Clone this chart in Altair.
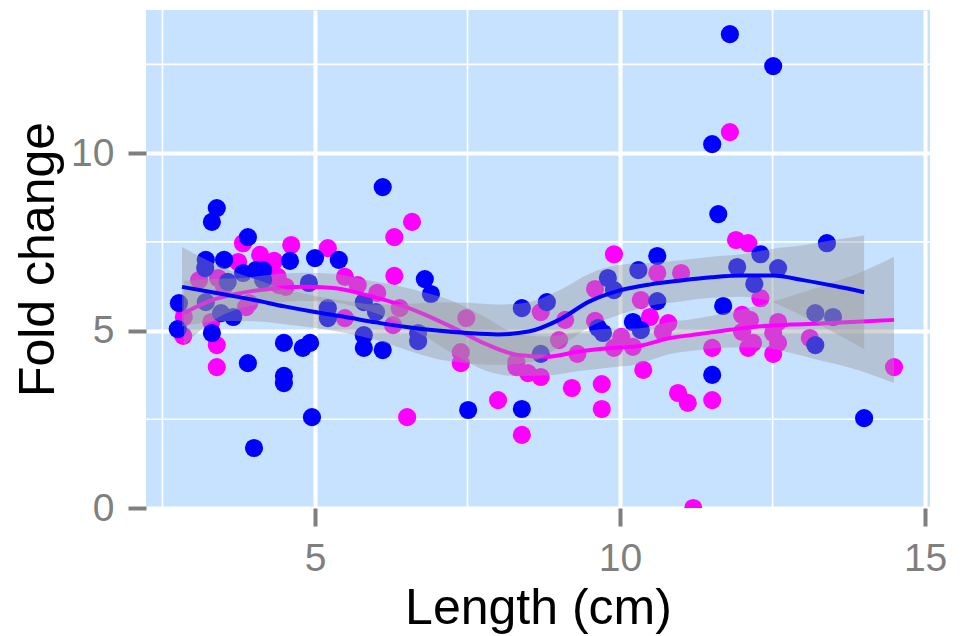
import altair as alt
import pandas as pd

# ---------------- data ----------------
blue_x = [3.39, 3.31, 3.90, 6.11, 4.59, 5.00, 5.39, 3.21, 3.51, 3.20, 3.57, 3.82, 4.03, 4.15, 4.15,
          2.77, 2.75, 3.31, 3.90, 4.49, 4.80, 4.92, 4.49, 4.49, 4.95, 4.00, 3.21, 3.46, 3.66, 4.90,
          5.21, 5.21, 5.80, 6.00, 5.80, 5.80, 6.11, 6.80, 6.90, 6.69, 6.69, 7.51, 8.39, 8.39, 8.80,
          8.70, 9.64, 9.72, 9.80, 9.90, 10.30, 10.21, 10.34, 10.61, 10.61, 11.80, 12.51, 11.51, 11.61,
          13.39, 12.30, 11.92, 12.59, 12.20, 11.69, 13.20, 13.49, 13.20, 14.00, 11.51]
blue_y = [8.45, 8.06, 7.63, 9.04, 6.96, 7.04, 6.99, 6.99, 6.99, 6.76, 6.37, 6.62, 6.70, 6.70, 6.42,
          5.77, 5.04, 4.93, 4.08, 4.65, 4.51, 4.65, 3.72, 3.52, 2.56, 1.69, 5.80, 5.49, 5.38, 6.34,
          5.63, 5.35, 5.80, 5.52, 4.87, 4.51, 4.45, 6.45, 6.03, 4.93, 4.70, 2.76, 2.79, 5.63, 5.80,
          4.34, 5.07, 4.93, 6.48, 6.14, 6.70, 5.24, 5.01, 7.10, 5.83, 13.35, 12.45, 10.25, 8.28,
          7.46, 7.15, 6.79, 6.76, 6.31, 5.69, 5.49, 5.38, 4.59, 2.53, 3.75]

mag_x = [3.82, 4.10, 4.33, 4.61, 3.74, 6.59, 6.30, 5.21, 6.30, 3.10, 3.41, 2.85, 2.84, 3.30, 3.39,
         3.39, 6.51, 3.51, 3.87, 3.92, 4.39, 4.41, 4.52, 5.49, 5.70, 6.02, 6.39, 6.28, 5.49, 7.48,
         7.39, 7.39, 9.90, 9.59, 8.70, 9.10, 9.59, 9.00, 8.30, 8.30, 8.49, 8.70, 9.30, 9.21, 9.70,
         9.70, 8.00, 8.39, 10.02, 9.90, 10.21, 10.38, 10.34, 10.61, 11.00, 10.49, 10.79, 10.70, 10.95,
         11.11, 11.51, 11.20, 11.80, 11.90, 12.10, 12.30, 12.00, 12.13, 12.00, 12.18, 12.10, 12.59,
         12.51, 12.59, 12.51, 11.51, 13.11, 14.49]
mag_y = [7.46, 7.13, 6.96, 7.41, 6.93, 8.06, 7.63, 7.32, 6.54, 6.42, 6.48, 5.38, 4.85, 5.24, 4.59,
         3.97, 2.56, 6.23, 5.66, 5.77, 6.51, 6.28, 6.23, 6.51, 6.28, 6.06, 5.63, 5.15, 5.35, 5.35,
         4.39, 4.08, 7.15, 6.17, 5.52, 5.30, 5.27, 4.73, 4.11, 3.97, 3.80, 3.69, 4.34, 3.38, 3.49,
         2.79, 3.04, 2.06, 4.82, 4.51, 4.54, 3.89, 5.86, 6.62, 6.62, 5.38, 5.21, 4.96, 3.24,
         2.96, 3.04, 0.00, 10.59, 7.55, 7.46, 5.91, 5.44, 5.30, 4.96, 4.65, 4.51, 5.24,
         4.93, 4.65, 4.34, 4.51, 4.79, 3.97]

# smoothers (fit and confidence band)
blue_sx = [2.82, 3.5, 4.0, 4.5, 5.0, 5.5, 6.0, 6.5, 7.0, 7.5, 8.0, 8.5, 9.0, 9.5, 10.0, 10.5,
           11.0, 11.5, 12.0, 12.5, 13.0, 13.5, 14.0]
blue_fit = [6.23, 6.02, 5.86, 5.68, 5.52, 5.38, 5.23, 5.10, 5.00, 4.93, 4.89, 4.97, 5.30, 5.82,
            6.13, 6.30, 6.41, 6.50, 6.55, 6.55, 6.42, 6.26, 6.08]
blue_hi = [7.35, 6.77, 6.46, 6.18, 5.97, 5.83, 5.73, 5.75, 5.80, 5.78, 5.73, 5.80, 6.13, 6.60,
           6.85, 6.90, 6.98, 7.08, 7.15, 7.30, 7.40, 7.55, 7.68]
blue_lo = [5.11, 5.27, 5.26, 5.18, 5.07, 4.93, 4.73, 4.45, 4.20, 4.08, 4.03, 4.10, 4.53, 5.10,
           5.45, 5.70, 5.82, 5.92, 5.95, 5.80, 5.40, 4.95, 4.48]

mag_sx = [2.85, 3.3, 3.8, 4.3, 4.8, 5.3, 5.8, 6.3, 6.8, 7.3, 7.8, 8.3, 8.8, 9.3, 9.8, 10.3,
          10.8, 11.3, 11.8, 12.3, 12.8, 13.3, 13.8, 14.49]
mag_fit = [5.49, 5.85, 6.06, 6.18, 6.23, 6.20, 6.02, 5.78, 5.45, 5.05, 4.62, 4.32, 4.26, 4.40,
           4.50, 4.56, 4.78, 4.90, 5.02, 5.12, 5.17, 5.20, 5.24, 5.30]
mag_hi = [6.40, 6.45, 6.48, 6.58, 6.63, 6.60, 6.44, 6.28, 6.07, 5.80, 5.37, 4.92, 4.83, 4.95,
          5.05, 5.06, 5.23, 5.35, 5.52, 5.72, 5.97, 6.25, 6.54, 7.08]
mag_lo = [4.58, 5.25, 5.64, 5.78, 5.83, 5.80, 5.60, 5.28, 4.83, 4.30, 3.87, 3.72, 3.73, 3.85,
          3.95, 4.06, 4.33, 4.45, 4.52, 4.52, 4.37, 4.15, 3.94, 3.52]

x_ticks = [5, 10, 15]
y_ticks = [0, 5, 10]
x_minor = [2.5, 7.5, 12.5]
y_minor = [2.5, 7.5, 12.5]

# ---------------- tables ----------------
pts = pd.DataFrame({
    "x": mag_x + blue_x,
    "y": mag_y + blue_y,
    "grp": ["magenta"] * len(mag_x) + ["blue"] * len(blue_x),
})
blue_s = pd.DataFrame({"x": blue_sx, "y": blue_fit, "lo": blue_lo, "hi": blue_hi})
mag_s = pd.DataFrame({"x": mag_sx, "y": mag_fit, "lo": mag_lo, "hi": mag_hi})
xm = pd.DataFrame({"x": x_minor})
ym = pd.DataFrame({"y": y_minor})

FONT = "Liberation Sans"
GREY = "#7F7F7F"

xs = alt.Scale(domain=[2.23, 15.08], nice=False, zero=False)
ys = alt.Scale(domain=[0, 14.03], nice=False, zero=False)

x_axis = alt.Axis(values=x_ticks, title="Length (cm)", grid=True, gridColor="white", gridWidth=4,
                  domain=False, tickColor=GREY, tickWidth=4, tickSize=18,
                  labelColor=GREY, labelFont=FONT, labelFontSize=39, labelPadding=13,
                  labelFlush=False, labelOverlap=False,
                  titleFont=FONT, titleFontSize=50, titleFontWeight="normal", titleColor="black",
                  titleX=392, titleY=115, titleBaseline="alphabetic", titleAlign="center")
y_axis = alt.Axis(values=y_ticks, title="Fold change", grid=True, gridColor="white", gridWidth=4,
                  domain=False, tickColor=GREY, tickWidth=4, tickSize=18,
                  labelColor=GREY, labelFont=FONT, labelFontSize=39, labelPadding=14,
                  labelFlush=False, labelOverlap=False,
                  titleFont=FONT, titleFontSize=50, titleFontWeight="normal", titleColor="black",
                  titleX=-93, titleY=249, titleAngle=270, titleBaseline="alphabetic",
                  titleAlign="center")

X = lambda f="x": alt.X(f + ":Q", scale=xs, axis=x_axis)
Y = lambda f="y": alt.Y(f + ":Q", scale=ys, axis=y_axis)

minor_v = alt.Chart(xm).mark_rule(color="white", strokeWidth=1.7).encode(x=X())
minor_h = alt.Chart(ym).mark_rule(color="white", strokeWidth=1.7).encode(y=Y())

points = alt.Chart(pts).mark_circle(size=330, opacity=1, clip=True).encode(
    x=X(), y=Y(),
    color=alt.Color("grp:N", scale=alt.Scale(domain=["magenta", "blue"],
                                             range=["#FF00FF", "#0000FF"]), legend=None),
)

mag_band = alt.Chart(mag_s).mark_area(color="#999999", opacity=0.4, interpolate="monotone").encode(
    x=X(), y=Y("lo"), y2="hi:Q")
mag_line = alt.Chart(mag_s).mark_line(color="#FF00FF", strokeWidth=4,
                                      interpolate="monotone").encode(x=X(), y=Y())
blue_band = alt.Chart(blue_s).mark_area(color="#999999", opacity=0.4, interpolate="monotone").encode(
    x=X(), y=Y("lo"), y2="hi:Q")
blue_line = alt.Chart(blue_s).mark_line(color="#0000FF", strokeWidth=4,
                                        interpolate="monotone").encode(x=X(), y=Y())

chart = alt.layer(minor_v, minor_h, points, mag_band, mag_line, blue_band, blue_line).properties(
    width=784, height=498,
    autosize=alt.AutoSizeParams(type="none"),
    padding={"left": 146, "top": 10, "right": 31, "bottom": 128},
    background="white",
).configure_view(fill="#C6E2FF", strokeWidth=0)

chart.save("out.html", embed_options={"renderer": "svg", "actions": False})
